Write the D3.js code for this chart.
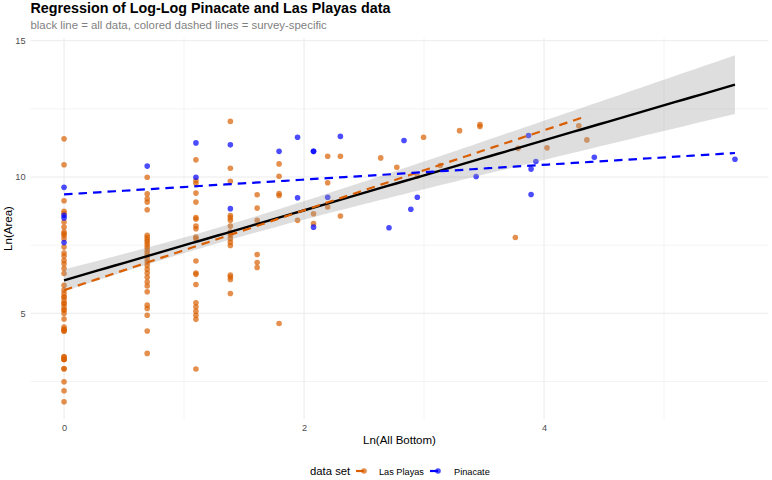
<!DOCTYPE html>
<html><head><meta charset="utf-8">
<script src="https://cdn.jsdelivr.net/npm/d3@7"></script>
<style>
body{margin:0;background:#fff}
text{font-family:"Liberation Sans",Arial,Helvetica,sans-serif}
</style>
</head><body>
<svg id="chart" width="772" height="480"></svg>
<script>
// ---------- data ----------
const titleText = "Regression of Log-Log Pinacate and Las Playas data";
const subtitleText = "black line = all data, colored dashed lines = survey-specific";
const xAxisTitle = "Ln(All Bottom)";
const yAxisTitle = "Ln(Area)";
const legendTitle = "data set";
const seriesNames = ["Las Playas", "Pinacate"];
const seriesColors = ["#D95F02", "#0000FF"];

const xMajorTicks = [0, 2, 4];
const xMinorTicks = [1, 3, 5];
const yMajorTicks = [5, 10, 15];
const yMinorTicks = [2.5, 7.5, 12.5];

// Las Playas: x = ln(all bottom) columns, y = ln(area) values in each column
const lasPlayasX = [0, 0.693, 1.099, 1.386, 1.609, 1.792, 1.946, 2.079, 2.197, 2.303,
  2.639, 2.773, 2.944, 2.996, 3.135, 3.296, 3.466, 3.761, 3.784, 4.025, 4.290, 4.357];
const lasPlayasY = [
  [11.40,10.45,9.13,8.74,8.66,8.35,8.16,7.98,7.92,7.86,7.74,7.43,7.21,7.10,6.94,6.82,6.64,6.46,6.03,5.85,5.73,5.60,5.60,5.48,5.36,5.36,5.24,5.12,5.12,4.99,4.79,4.50,4.41,4.41,4.35,4.35,3.41,3.41,3.31,3.31,3.31,2.97,2.97,2.49,2.16,1.76],
  [9.99,9.38,9.20,9.08,8.80,7.86,7.78,7.70,7.62,7.52,7.42,7.32,7.22,7.12,7.00,6.88,6.76,6.62,6.48,6.32,6.15,6.00,5.79,5.30,5.18,4.93,4.35,3.53],
  [10.63,9.87,9.77,9.41,9.08,8.51,8.46,8.20,8.10,7.80,7.74,6.92,6.48,6.43,6.06,5.39,5.24,5.08,4.93,4.78,2.96],
  [12.04,10.32,9.84,8.59,8.51,8.41,8.20,7.98,7.86,7.74,7.61,7.49,6.40,6.33,6.24,5.73],
  [9.35,8.86,8.41,7.16,6.86,6.68],
  [10.48,10.03,9.39,9.32,4.63],
  [8.41],
  [8.65,8.29],
  [10.76,9.79,8.90],
  [10.76,8.57],
  [10.70],[10.36],[10.03],[11.46],[10.42],[11.70],[11.92,11.85],[7.78],[11.05],[11.07],[11.88],[11.36]
];

// Pinacate
const pinacateX = [0, 0.693, 1.099, 1.386, 1.792, 1.946, 2.079, 2.197, 2.303, 2.708,
  2.833, 2.890, 2.944, 3.434, 3.871, 3.892, 3.932, 4.419, 5.591];
const pinacateY = [
  [9.62,8.60,8.50,7.60],[10.40],[11.25,9.99],[11.18,8.84],[10.94],[11.46,9.24],[10.94,10.94,8.16],
  [9.26],[11.49],[8.14],[11.34],[8.82],[9.26],[10.02],[11.52],[10.29,9.36],[10.57],[10.72],[10.65]
];

// ---------- helpers ----------
function flatten(xs, yss, s) {
  const out = [];
  xs.forEach((xv, i) => yss[i].forEach(yv => out.push({x: xv, y: yv, s})));
  return out;
}
// ordinary least squares fit with 95% confidence band (as geom_smooth(method = "lm"))
function olsFit(pts) {
  const xs = pts.map(d=>d.x), ys = pts.map(d=>d.y);
  const n = xs.length;
  const mx = d3.mean(xs), my = d3.mean(ys);
  let sxx = 0, sxy = 0;
  for (let i = 0; i < n; i++) { sxx += (xs[i]-mx)**2; sxy += (xs[i]-mx)*(ys[i]-my); }
  const b = sxy / sxx, a = my - b*mx;
  let sse = 0;
  for (let i = 0; i < n; i++) sse += (ys[i] - a - b*xs[i])**2;
  const s = Math.sqrt(sse/(n-2));
  const df = n - 2, z = 1.959964;
  const t = z + (z**3 + z)/(4*df) + (5*z**5 + 16*z**3 + 3*z)/(96*df*df);
  const x0 = d3.min(xs), x1 = d3.max(xs);
  const out = d3.range(80).map(i => {
    const xv = x0 + (x1-x0)*i/79;
    const yhat = a + b*xv;
    const se = s*Math.sqrt(1/n + (xv-mx)**2/sxx);
    return {x: xv, y: yhat, lo: yhat - t*se, hi: yhat + t*se};
  });
  return {a, b, n, pts: out};
}

// ---------- build ----------
const svg = d3.select("#chart");
const panel = {left: 30.5, right: 768.5, top: 38, bottom: 419};

const lp = flatten(lasPlayasX, lasPlayasY, 0);
const pc = flatten(pinacateX, pinacateY, 1);
const all = lp.concat(pc);

const fitAll = olsFit(all);
const fitLP = olsFit(lp);
const fitPC = olsFit(pc);

const xExt = d3.extent(all, d=>d.x);
const yMin = Math.min(d3.min(all, d=>d.y), d3.min(fitAll.pts, d=>d.lo));
const yMax = Math.max(d3.max(all, d=>d.y), d3.max(fitAll.pts, d=>d.hi));
const xPad = (xExt[1]-xExt[0])*0.05, yPad = (yMax-yMin)*0.05;

const x = d3.scaleLinear().domain([xExt[0]-xPad, xExt[1]+xPad]).range([panel.left, panel.right]);
const y = d3.scaleLinear().domain([yMin-yPad, yMax+yPad]).range([panel.bottom, panel.top]);

// grid
const grid = svg.append("g");
grid.selectAll(".xmin").data(xMinorTicks).join("line")
  .attr("x1", d=>x(d)).attr("x2", d=>x(d)).attr("y1", panel.top).attr("y2", panel.bottom)
  .attr("stroke", "#EBEBEB").attr("stroke-width", 0.55);
grid.selectAll(".ymin").data(yMinorTicks).join("line")
  .attr("y1", d=>y(d)).attr("y2", d=>y(d)).attr("x1", panel.left).attr("x2", panel.right)
  .attr("stroke", "#EBEBEB").attr("stroke-width", 0.55);
grid.selectAll(".xmaj").data(xMajorTicks).join("line")
  .attr("x1", d=>x(d)).attr("x2", d=>x(d)).attr("y1", panel.top).attr("y2", panel.bottom)
  .attr("stroke", "#EBEBEB").attr("stroke-width", 1.07);
grid.selectAll(".ymaj").data(yMajorTicks).join("line")
  .attr("y1", d=>y(d)).attr("y2", d=>y(d)).attr("x1", panel.left).attr("x2", panel.right)
  .attr("stroke", "#EBEBEB").attr("stroke-width", 1.07);

// axes (labels only, like theme_minimal)
const xAxis = d3.axisBottom(x).tickValues(xMajorTicks).tickSize(0).tickPadding(0).tickFormat(d3.format("d"));
const gx = svg.append("g").attr("transform", `translate(0,${panel.bottom})`).call(xAxis);
gx.select(".domain").remove();
gx.selectAll("text").attr("fill", "#4D4D4D").attr("font-size", "9.2px").attr("dy", "12px")
  .style("font-family", '"Liberation Sans",Arial,sans-serif');
const yAxis = d3.axisLeft(y).tickValues(yMajorTicks).tickSize(0).tickPadding(5).tickFormat(d3.format("d"));
const gy = svg.append("g").attr("transform", `translate(${panel.left},0)`).call(yAxis);
gy.select(".domain").remove();
gy.selectAll("text").attr("fill", "#4D4D4D").attr("font-size", "9.2px")
  .style("font-family", '"Liberation Sans",Arial,sans-serif');

// points
svg.append("g").selectAll("circle").data(all).join("circle")
  .attr("cx", d=>x(d.x)).attr("cy", d=>y(d.y)).attr("r", 2.8)
  .attr("fill", d=>seriesColors[d.s]).attr("fill-opacity", 0.7);

// overall fit: ribbon + line
svg.append("path").datum(fitAll.pts)
  .attr("d", d3.area().x(d=>x(d.x)).y0(d=>y(d.lo)).y1(d=>y(d.hi)))
  .attr("fill", "#999999").attr("fill-opacity", 0.32);
svg.append("path").datum(fitAll.pts)
  .attr("d", d3.line().x(d=>x(d.x)).y(d=>y(d.y)))
  .attr("fill", "none").attr("stroke", "#000").attr("stroke-width", 2.4);

// group fits (dashed)
[fitLP, fitPC].forEach((f, i) => {
  svg.append("path").datum(f.pts)
    .attr("d", d3.line().x(d=>x(d.x)).y(d=>y(d.y)))
    .attr("fill", "none").attr("stroke", seriesColors[i]).attr("stroke-width", 2.2)
    .attr("stroke-dasharray", "8.5,6");
});

// titles
svg.append("text").attr("x", panel.left).attr("y", 13).text(titleText)
  .attr("font-size", "14.3px").attr("font-weight", "bold").attr("fill", "#000");
svg.append("text").attr("x", panel.left).attr("y", 28.5).text(subtitleText)
  .attr("font-size", "11.4px").attr("fill", "#7F7F7F");
svg.append("text").attr("x", (panel.left+panel.right)/2).attr("y", 444).attr("text-anchor", "middle")
  .text(xAxisTitle).attr("font-size", "11.5px").attr("fill", "#000");
svg.append("text").attr("transform", `translate(12,${(panel.top+panel.bottom)/2}) rotate(-90)`)
  .attr("text-anchor", "middle").text(yAxisTitle).attr("font-size", "11.5px").attr("fill", "#000");

// legend
const lg = svg.append("g");
lg.append("text").attr("x", 310).attr("y", 475).text(legendTitle).attr("font-size", "11.3px").attr("fill", "#000");
const keyX = [363, 437], labX = [379, 454];
seriesNames.forEach((name, i) => {
  lg.append("line").attr("x1", keyX[i]-7).attr("x2", keyX[i]+1).attr("y1", 471).attr("y2", 471)
    .attr("stroke", seriesColors[i]).attr("stroke-width", 2.2);
  lg.append("circle").attr("cx", keyX[i]+1).attr("cy", 471).attr("r", 2.8)
    .attr("fill", seriesColors[i]).attr("fill-opacity", 0.7);
  lg.append("text").attr("x", labX[i]).attr("y", 474.5).text(name).attr("font-size", "9.2px").attr("fill", "#000");
});
</script>
</body></html>
